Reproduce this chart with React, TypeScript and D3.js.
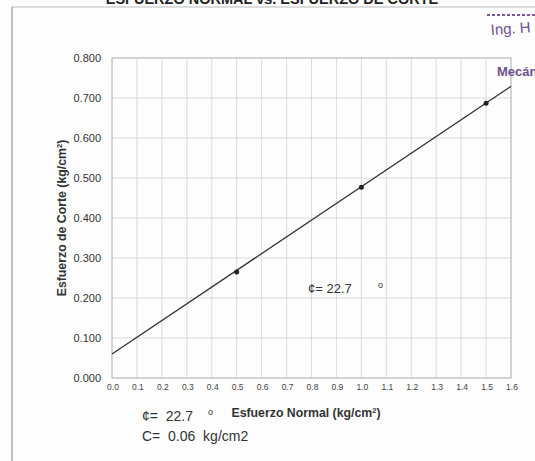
import React from "react";
import * as d3 from "d3";

const xTicks = [0, 0.1, 0.2, 0.3, 0.4, 0.5, 0.6, 0.7, 0.8, 0.9, 1.0, 1.1, 1.2, 1.3, 1.4, 1.5, 1.6];
const yTicks = [0, 0.1, 0.2, 0.3, 0.4, 0.5, 0.6, 0.7, 0.8];
const pointsX = [0.5, 1.0, 1.5];
const pointsY = [0.265, 0.477, 0.687];
const phiDeg = 22.7;
const cohesion = 0.06;
const lineX = [0, 1.6];

export default function App() {
  const W = 535, H = 461;
  const left = 112, right = 511, top = 58, bottom = 378;
  const x = d3.scaleLinear().domain([0, 1.6]).range([left, right]);
  const y = d3.scaleLinear().domain([0, 0.8]).range([bottom, top]);
  const slope = Math.tan((phiDeg * Math.PI) / 180);
  const lineGen = d3.line<number>().x((d) => x(d)).y((d) => y(cohesion + slope * d));
  const font = "Liberation Sans, Arial, sans-serif";
  return (
    <svg width={W} height={H} style={{ position: "absolute", left: 0, top: 0, background: "#fff" }} fontFamily={font}>
      <rect x={0} y={0} width={W} height={H} fill="#fdfdfd" />
      <text x={272} y={4} textAnchor="middle" fontSize={14.5} fontWeight="bold" fill="#222">
        ESFUERZO NORMAL vs. ESFUERZO DE CORTE
      </text>
      <line x1={12} y1={7} x2={W} y2={7} stroke="#bbb" />
      <line x1={12} y1={7} x2={12} y2={H} stroke="#aaa" strokeWidth={1.5} />
      {xTicks.map((t, i) => (
        <line key={"gx" + i} x1={x(t)} x2={x(t)} y1={top} y2={bottom} stroke="#d2d2da" strokeWidth={0.8} />
      ))}
      {yTicks.map((t, i) => (
        <line key={"gy" + i} x1={left} x2={right} y1={y(t)} y2={y(t)} stroke="#d2d2da" strokeWidth={0.8} />
      ))}
      <rect x={left} y={top} width={right - left} height={bottom - top} fill="none" stroke="#b0b0b0" strokeWidth={0.8} />
      {yTicks.map((t, i) => (
        <text key={"ty" + i} x={101} y={y(t) + 4} textAnchor="end" fontSize={11} fill="#333">
          {t.toFixed(3)}
        </text>
      ))}
      {xTicks.map((t, i) => (
        <text key={"tx" + i} x={x(t) + 1} y={390} textAnchor="middle" fontSize={8.5} fill="#444">
          {t.toFixed(1)}
        </text>
      ))}
      <text transform={`translate(66,${(top + bottom) / 2}) rotate(-90)`} textAnchor="middle" fontSize={12.3} fontWeight="bold" fill="#333">
        Esfuerzo de Corte (kg/cm<tspan fontSize={7.5} dy={-4}>2</tspan><tspan dy={4}>)</tspan>
      </text>
      <text x={306} y={417} textAnchor="middle" fontSize={12.3} fontWeight="bold" fill="#333">
        Esfuerzo Normal (kg/cm<tspan fontSize={7.5} dy={-4}>2</tspan><tspan dy={4}>)</tspan>
      </text>
      <path d={lineGen(lineX) || ""} fill="none" stroke="#333" strokeWidth={1.3} />
      {pointsX.map((px, i) => (
        <circle key={"p" + i} cx={x(px)} cy={y(pointsY[i])} r={2.5} fill="#222" />
      ))}
      <text x={308} y={293} fontSize={13} fill="#333">
        ¢= 22.7
      </text>
      <text x={378} y={288} fontSize={9} fill="#333">o</text>
      <text x={142} y={421} fontSize={14} fill="#333" style={{ whiteSpace: "pre" }}>¢=  22.7</text>
      <text x={208} y={415} fontSize={9} fill="#333">o</text>
      <text x={142} y={441} fontSize={14} fill="#333" style={{ whiteSpace: "pre" }}>
        C=  0.06  kg/cm2
      </text>
      <line x1={487} y1={15} x2={535} y2={15} stroke="#7a5a9a" strokeWidth={2} strokeDasharray="3,2" />
      <text x={491} y={35} fontSize={15} fill="#6c5090" transform="rotate(-4 491 35)">
        Ing. H
      </text>
      <text x={497} y={76} fontSize={13} fill="#6c5090" fontWeight="bold">
        Mecán
      </text>
    </svg>
  );
}
